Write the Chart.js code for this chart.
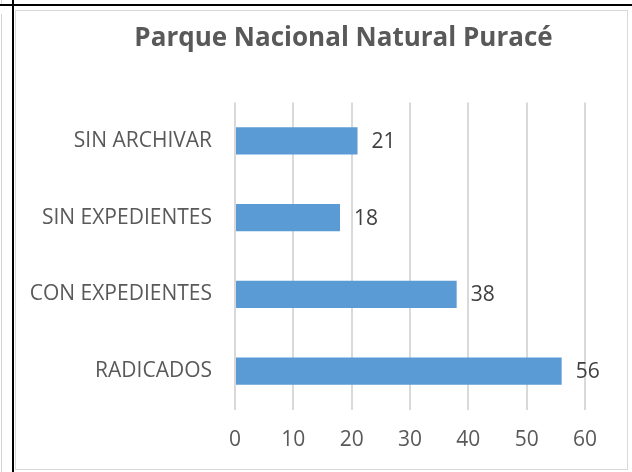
<!DOCTYPE html>
<html>
<head>
<meta charset="utf-8">
<script src="https://cdn.jsdelivr.net/npm/chart.js@4.4.1/dist/chart.umd.min.js"></script>
<style>
  html, body { margin: 0; padding: 0; background: #fff; }
  #wrap { position: relative; width: 632px; height: 472px; overflow: hidden; }
  .line { position: absolute; }
  canvas { position: absolute; left: 0; top: 0; }
</style>
</head>
<body>
<div id="wrap">
  <!-- bordes de la hoja / tabla -->
  <div class="line" style="left:1px;top:0;width:1px;height:4px;background:#d4d4d4"></div>
  <div class="line" style="left:1px;top:14px;width:1px;height:458px;background:#d4d4d4"></div>
  <div class="line" style="left:0;top:4px;width:632px;height:2px;background:#000"></div>
  <div class="line" style="left:12px;top:0;width:2px;height:472px;background:#000"></div>
  <!-- marco del gráfico -->
  <div class="line" style="left:15px;top:10px;width:611px;height:458px;border:1px solid #d9d9d9"></div>
  <canvas id="grafico" width="632" height="472"></canvas>
</div>
<script>
// Datos del gráfico
const categorias = ['RADICADOS', 'CON EXPEDIENTES', 'SIN EXPEDIENTES', 'SIN ARCHIVAR'];
const valores = [56, 38, 18, 21];
const ticksX = [0, 10, 20, 30, 40, 50, 60];
const titulo = 'Parque Nacional Natural Puracé';

const fuente = '"Open Sans", "DejaVu Sans", sans-serif';

// Título dibujado sobre el lienzo (centrado como en el original)
const pluginTitulo = {
    id: 'tituloPropio',
    afterDraw(chart) {
        const ctx = chart.ctx;
        ctx.save();
        ctx.font = 'bold 26px ' + fuente;
        ctx.fillStyle = '#595959';
        ctx.textAlign = 'center';
        ctx.textBaseline = 'alphabetic';
        ctx.fillText(titulo, 343.5, 46);
        ctx.restore();
    }
};

// Etiquetas de valor al final de cada barra
const pluginEtiquetas = {
    id: 'etiquetasValor',
    afterDatasetsDraw(chart) {
        const ctx = chart.ctx;
        const meta = chart.getDatasetMeta(0);
        ctx.save();
        ctx.font = '21px ' + fuente;
        ctx.fillStyle = '#404040';
        ctx.textAlign = 'left';
        ctx.textBaseline = 'middle';
        meta.data.forEach((barra, i) => {
            ctx.fillText(String(valores[i]), barra.x + 14, barra.y + 1);
        });
        ctx.restore();
    }
};

const ctx = document.getElementById('grafico').getContext('2d');
new Chart(ctx, {
    type: 'bar',
    data: {
        labels: categorias,
        datasets: [{
            data: valores,
            backgroundColor: '#5b9bd5',
            borderWidth: 0,
            barPercentage: 0.352,
            categoryPercentage: 1
        }]
    },
    options: {
        indexAxis: 'y',
        responsive: false,
        animation: false,
        layout: {
            padding: { left: 16, right: 47, top: 102.5, bottom: 22.5 }
        },
        plugins: {
            legend: { display: false },
            tooltip: { enabled: false },
            title: { display: false }
        },
        scales: {
            x: {
                min: 0,
                max: 60,
                afterBuildTicks: (scale) => {
                    scale.ticks = ticksX.map(v => ({ value: v }));
                },
                afterFit: (scale) => { scale.height = 40; },
                grid: { color: '#d9d9d9', lineWidth: 2, drawTicks: false },
                border: { display: false },
                ticks: {
                    padding: 18,
                    color: '#595959',
                    font: { family: fuente, size: 21 }
                }
            },
            y: {
                reverse: true,
                afterFit: (scale) => { scale.width = 219; },
                grid: { display: false, drawTicks: false },
                border: { display: false },
                ticks: {
                    padding: 23,
                    color: '#595959',
                    font: { family: fuente, size: 21 }
                }
            }
        }
    },
    plugins: [pluginTitulo, pluginEtiquetas]
});
</script>
</body>
</html>
